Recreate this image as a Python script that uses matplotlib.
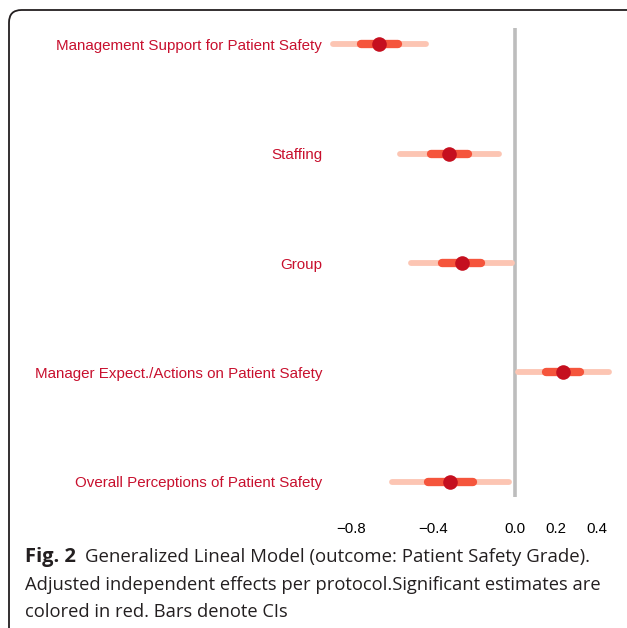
import matplotlib
matplotlib.use('Agg')
from matplotlib import pyplot as plt
from matplotlib.patches import FancyBboxPatch

# data (top row first)
labels = ['Management Support for Patient Safety', 'Staffing', 'Group',
          'Manager Expect./Actions on Patient Safety',
          'Overall Perceptions of Patient Safety']
estimate = [-0.667, -0.324, -0.260, 0.235, -0.319]
outer_lo = [-0.890, -0.564, -0.508, 0.015, -0.603]
outer_hi = [-0.436, -0.078, -0.012, 0.459, -0.029]
inner_lo = [-0.755, -0.412, -0.355, 0.152, -0.426]
inner_hi = [-0.574, -0.230, -0.167, 0.320, -0.206]
xticks = [-0.8, -0.4, 0.0, 0.2, 0.4]
xticklabels = ['\u22120.8', '\u22120.4', '0.0', '0.2', '0.4']

W, H = 627, 628
fig = plt.figure(figsize=(W / 100, H / 100), dpi=100)

# axes placed in pixel terms
left, right, top, bottom = 325, 617, 28, 497
ax = fig.add_axes([left / W, 1 - bottom / H, (right - left) / W, (bottom - top) / H])

ax.axvline(0, color='#bdbdbd', lw=2.6, zorder=1)
ys = list(range(len(labels)))
for y, e, ol, oh, il, ih in zip(ys, estimate, outer_lo, outer_hi, inner_lo, inner_hi):
    ax.plot([ol, oh], [y, y], color='#fcc5b3', lw=4.2, solid_capstyle='round', zorder=2)
    ax.plot([il, ih], [y, y], color='#f5553c', lw=6, solid_capstyle='round', zorder=3)
    ax.plot(e, y, 'o', color='#c50f1f', ms=10.5, mec='none', zorder=4)

ax.set_xlim(-0.93, 0.50)
ax.set_ylim(4.14, -0.15)
ax.set_xticks(xticks)
ax.set_xticklabels(xticklabels, fontsize=10.8, family='Liberation Sans')
ax.set_yticks(ys)
ax.set_yticklabels(labels, fontsize=10.9, color='#c8102e', family='Liberation Sans')
ax.tick_params(length=0, axis='x', pad=18)
ax.tick_params(length=0, axis='y', pad=2)
for s in ax.spines.values():
    s.set_visible(False)

# rounded frame around the figure panel
frame = FancyBboxPatch((9 / W, -0.2), 1.2, 1.2 - 10 / H,
                       boxstyle='round,pad=0,rounding_size=0.02',
                       transform=fig.transFigure, fill=False, ec='#231f20', lw=1.3)
fig.patches.append(frame)

cap_x = 25 / W
cap = dict(family='Open Sans', color='#231f20', va='center')
fig.text(cap_x, 1 - 557 / H, 'Fig. 2', fontsize=14.5, fontweight='bold', **cap)
fig.text(cap_x + 60 / W, 1 - 557 / H,
         'Generalized Lineal Model (outcome: Patient Safety Grade).', fontsize=13.4, **cap)
fig.text(cap_x, 1 - 585 / H,
         'Adjusted independent effects per protocol.Significant estimates are',
         fontsize=13.2, **cap)
fig.text(cap_x, 1 - 612 / H, 'colored in red. Bars denote CIs', fontsize=13.2, **cap)

fig.savefig('out.png', dpi=100)
